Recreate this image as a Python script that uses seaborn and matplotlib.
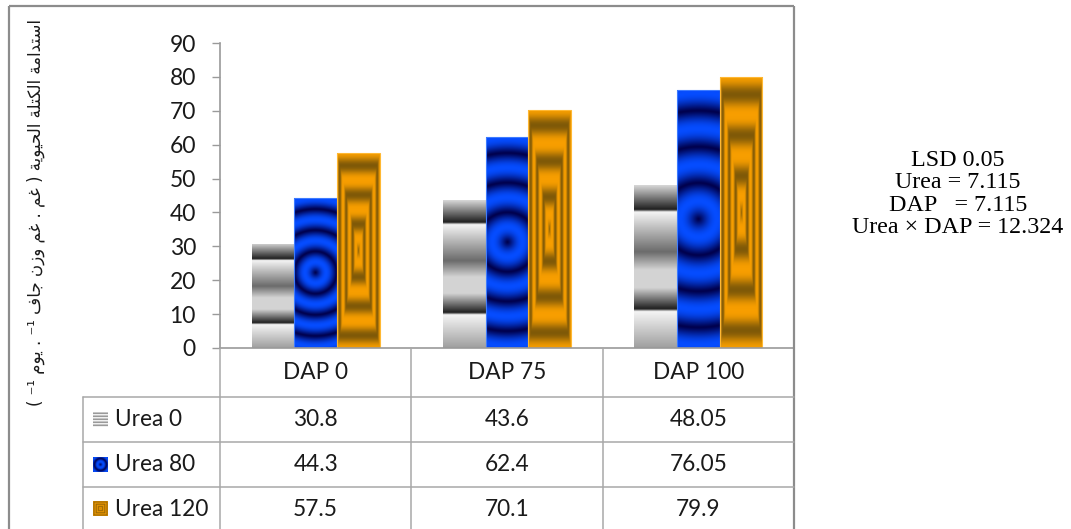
import numpy as np
import pandas as pd
import matplotlib
matplotlib.use("Agg")
import matplotlib.pyplot as plt
from matplotlib.patches import Rectangle
import seaborn as sns

# ---- data -------------------------------------------------------------
dap_levels = ["DAP 0", "DAP 75", "DAP 100"]
urea_levels = ["Urea 0", "Urea 80", "Urea 120"]
urea_0 = [30.8, 43.6, 48.05]
urea_80 = [44.3, 62.4, 76.05]
urea_120 = [57.5, 70.1, 79.9]
y_ticks = [0, 10, 20, 30, 40, 50, 60, 70, 80, 90]
lsd_lines = ["LSD 0.05", "Urea = 7.115", "DAP   = 7.115", "Urea \u00d7 DAP = 12.324"]

# y-axis title, logical (reading) order, word by word
ylabel_words = ["استدامة", "الكتلة", "الحيوية", "(", "غم", ".", "غم", "وزن", "جاف",
                "\u207b\u00b9", ".", "يوم", "\u207b\u00b9", ")"]

series = {"Urea 0": urea_0, "Urea 80": urea_80, "Urea 120": urea_120}
df = pd.DataFrame([
    {"dap": d, "urea": u, "value": v}
    for u in urea_levels for d, v in zip(dap_levels, series[u])
])

# ---- Arabic contextual shaping (presentation forms) -------------------
FORMS = {
    "\u0627": ("\uFE8D", "\uFE8E", None, None),
    "\u0633": ("\uFEB1", "\uFEB2", "\uFEB3", "\uFEB4"),
    "\u062A": ("\uFE95", "\uFE96", "\uFE97", "\uFE98"),
    "\u062F": ("\uFEA9", "\uFEAA", None, None),
    "\u0645": ("\uFEE1", "\uFEE2", "\uFEE3", "\uFEE4"),
    "\u0629": ("\uFE93", "\uFE94", None, None),
    "\u0644": ("\uFEDD", "\uFEDE", "\uFEDF", "\uFEE0"),
    "\u0643": ("\uFED9", "\uFEDA", "\uFEDB", "\uFEDC"),
    "\u062D": ("\uFEA1", "\uFEA2", "\uFEA3", "\uFEA4"),
    "\u064A": ("\uFEF1", "\uFEF2", "\uFEF3", "\uFEF4"),
    "\u0648": ("\uFEED", "\uFEEE", None, None),
    "\u063A": ("\uFECD", "\uFECE", "\uFECF", "\uFED0"),
    "\u0632": ("\uFEAF", "\uFEB0", None, None),
    "\u0646": ("\uFEE5", "\uFEE6", "\uFEE7", "\uFEE8"),
    "\u062C": ("\uFE9D", "\uFE9E", "\uFE9F", "\uFEA0"),
    "\u0641": ("\uFED1", "\uFED2", "\uFED3", "\uFED4"),
}


def shape_word(word):
    out = []
    n = len(word)
    for i, ch in enumerate(word):
        if ch not in FORMS:
            out.append(ch)
            continue
        f = FORMS[ch]
        prev_join = i > 0 and word[i - 1] in FORMS and FORMS[word[i - 1]][2] is not None
        next_join = i < n - 1 and word[i + 1] in FORMS and f[2] is not None
        if prev_join and next_join:
            out.append(f[3])
        elif next_join:
            out.append(f[2])
        elif prev_join:
            out.append(f[1])
        else:
            out.append(f[0])
    return "".join(out)


def visual_rtl(words):
    mirror = {"(": ")", ")": "("}
    parts = []
    for w in reversed(words):
        if w in mirror:
            parts.append(mirror[w])
        elif any(c in FORMS for c in w):
            parts.append(shape_word(w)[::-1])
        else:
            parts.append(w)
    return " ".join(parts)


# ---- fill textures ----------------------------------------------------
def stripe_texture(hp, wp):
    t = (np.arange(hp) + 0.5) / hp
    kt = [0, 0.15, 0.165, 0.41, 0.52, 0.63, 0.76, 0.775, 1.0]
    kv = [0.85, 0.12, 0.96, 0.42, 0.83, 0.83, 0.12, 0.96, 0.62]
    v = np.interp(t, kt, kv)
    img = np.repeat(v[:, None], wp, axis=1)
    return np.dstack([img] * 3)


def ring_texture(hp, wp, period):
    y = np.arange(hp) + 0.5 - hp / 2
    x = np.arange(wp) + 0.5 - wp / 2
    r = np.hypot(x[None, :], y[:, None])
    s = (0.5 - 0.5 * np.cos(2 * np.pi * r / period)) ** 0.6
    dark = np.array([0.0, 0.0, 0.30])
    bright = np.array([0.02, 0.30, 1.0])
    return dark + s[..., None] * (bright - dark)


def box_texture(hp, wp):
    y = np.abs(np.arange(hp) + 0.5 - hp / 2) / (hp / 2)
    x = np.abs(np.arange(wp) + 0.5 - wp / 2) / (wp / 2)
    d = np.maximum(x[None, :], y[:, None])
    s = (0.5 + 0.5 * np.cos(2 * np.pi * (d - 0.87) / 0.3)) ** 1.4
    bright = np.array([0.97, 0.62, 0.0])
    dark = np.array([0.50, 0.35, 0.03])
    return bright + s[..., None] * (dark - bright)


# ---- figure -----------------------------------------------------------
sns.set_style("white")
plt.rcParams["font.family"] = ["Lato", "DejaVu Sans"]

W, H = 1071, 529
fig = plt.figure(figsize=(W / 100, H / 100), dpi=100)


def box(l, t, r, b):
    return [l / W, 1 - b / H, (r - l) / W, (b - t) / H]


ax = fig.add_axes(box(220, 43, 794, 348))
sns.barplot(data=df, x="dap", y="value", hue="urea", order=dap_levels,
            hue_order=urea_levels, width=0.67, gap=0, errorbar=None,
            palette=["#bdbdbd", "#0a2fd0", "#e69a00"], saturation=1,
            legend=False, ax=ax)

edge_colors = {"Urea 0": "#d0d0d0", "Urea 80": "#3d7bff", "Urea 120": "#ffb833"}
px_x = 574 / 3.0
px_y = 305 / 90.0
for cont, lvl in zip(ax.containers, urea_levels):
    for p in cont.patches:
        x0, w, h = p.get_x(), p.get_width(), p.get_height()
        wp = max(int(round(w * px_x * 2)), 2)
        hp = max(int(round(h * px_y * 2)), 2)
        if lvl == "Urea 0":
            img = stripe_texture(hp, wp)
        elif lvl == "Urea 80":
            img = ring_texture(hp, wp, 0.14 * hp)
        else:
            img = box_texture(hp, wp)
        im = ax.imshow(img, extent=(x0, x0 + w, 0, h), aspect="auto",
                       interpolation="bilinear", origin="upper",
                       zorder=p.get_zorder() + 0.1)
        im.set_clip_path(p)
        if lvl != "Urea 0":
            ax.add_patch(Rectangle((x0, 0), w, h, fill=False, lw=0.8,
                                   edgecolor=edge_colors[lvl],
                                   zorder=p.get_zorder() + 0.2))

ax.set_xlim(-0.5, 2.5)
ax.set_ylim(0, 90)
ax.set_yticks(y_ticks)
ax.set_xticks([])
ax.set_xlabel("")
ax.set_ylabel("")
for side in ("top", "right"):
    ax.spines[side].set_visible(False)
for side in ("left", "bottom"):
    ax.spines[side].set_color("#9a9a9a")
    ax.spines[side].set_linewidth(1.2)
ax.tick_params(axis="y", direction="out", length=5.8, width=1.0, color="#9a9a9a",
               pad=11.5, labelsize=16.5, labelcolor="#1a1a1a", left=True)

# ---- overlay in pixel coordinates: frame, data table, texts -----------
ov = fig.add_axes([0, 0, 1, 1])
ov.set_xlim(0, W)
ov.set_ylim(H, 0)
ov.axis("off")
ov.patch.set_alpha(0)

frame_c = "#8c8c8c"
ov.plot([9, 9], [6, H + 5], color=frame_c, lw=1.6, solid_capstyle="butt")
ov.plot([9, 794], [6, 6], color=frame_c, lw=1.6, solid_capstyle="butt")
ov.plot([794, 794], [6, H + 5], color=frame_c, lw=1.6, solid_capstyle="butt")

grid_c = "#a8a8a8"
col_edges = [220, 411.3, 602.7, 794]
row_edges = [397, 442, 487]
for x in col_edges[:-1]:
    ov.plot([x, x], [348, H + 5], color=grid_c, lw=1.1)
ov.plot([83, 83], [397, H + 5], color=grid_c, lw=1.1)
for y in row_edges:
    ov.plot([83, 794], [y, y], color=grid_c, lw=1.1)

col_centers = [(a + b) / 2 for a, b in zip(col_edges[:-1], col_edges[1:])]
row_centers = [419.5, 464.5, 509]
txt_c = "#1a1a1a"
fs = 16.3
for cx, lab in zip(col_centers, dap_levels):
    ov.text(cx, 372.5, lab, ha="center", va="center", fontsize=fs, color=txt_c)
for ry, lvl in zip(row_centers, urea_levels):
    ov.text(115, ry, lvl, ha="left", va="center", fontsize=fs, color=txt_c)
    for cx, v in zip(col_centers, series[lvl]):
        ov.text(cx, ry, f"{v:g}", ha="center", va="center", fontsize=fs, color=txt_c)

# legend keys inside the table
key_l, key_r = 93, 108
lines = np.ones((30, 30, 3))
for i in range(5):
    lines[i * 6 + 1:i * 6 + 4, :, :] = 0.55
keys = [lines, ring_texture(30, 30, 12), box_texture(30, 30)]
for ry, img in zip(row_centers, keys):
    ov.imshow(img, extent=(key_l, key_r, ry + 7.5, ry - 7.5), aspect="auto",
              interpolation="bilinear", zorder=3)

# rotated Arabic y-axis title
ov.text(36, 212, visual_rtl(ylabel_words), rotation=90, ha="center", va="center",
        fontsize=12, family=["DejaVu Sans"], color=txt_c)

# LSD note
ov.text(958, 194, "\n".join(lsd_lines), ha="center", va="center",
        multialignment="center", fontsize=17.3, linespacing=1.08,
        family=["Liberation Serif", "DejaVu Serif"], color="black")

ov.set_xlim(0, W)
ov.set_ylim(H, 0)

fig.savefig("out.png", dpi=100, facecolor="white")
